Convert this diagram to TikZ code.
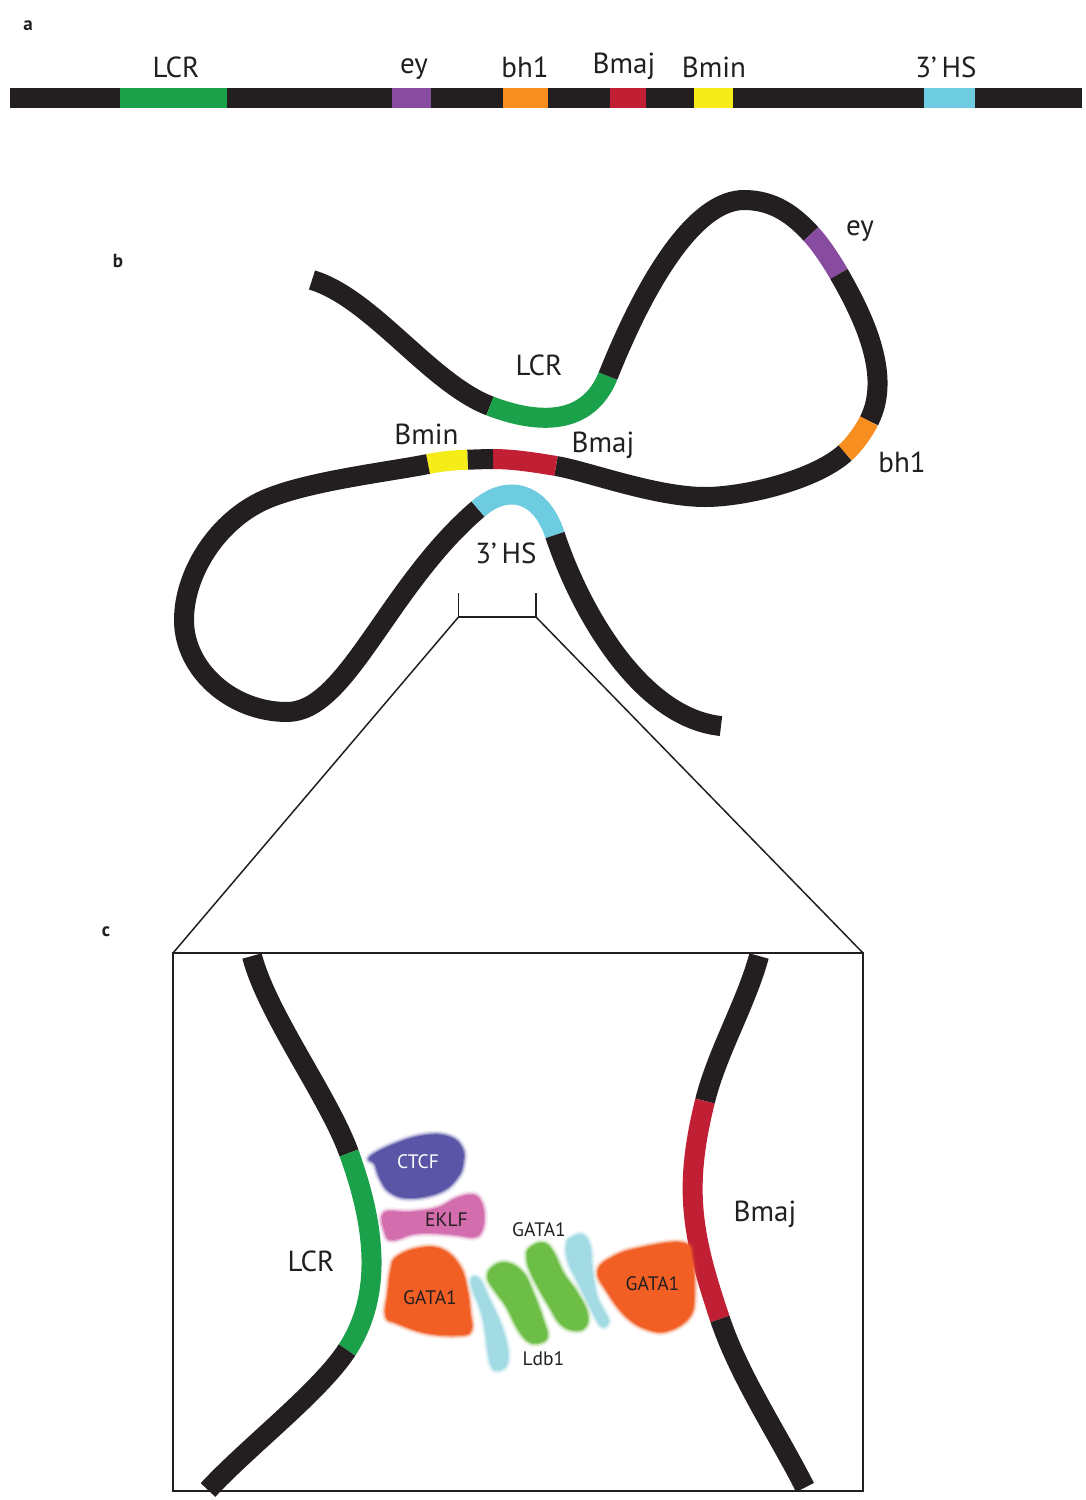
\documentclass[tikz,border=0pt]{standalone}
\usepackage{fontspec}
\setmainfont{PT Sans}
\definecolor{dna}{HTML}{231F20}
\definecolor{lcrgreen}{HTML}{1BA149}
\definecolor{eycol}{HTML}{874BA0}
\definecolor{bhcol}{HTML}{F78E1F}
\definecolor{majcol}{HTML}{C11F34}
\definecolor{mincol}{HTML}{F6EC17}
\definecolor{hscol}{HTML}{6DCCE0}
\definecolor{ctcfcol}{HTML}{5A55A6}
\definecolor{eklfcol}{HTML}{D46DAE}
\definecolor{gatacol}{HTML}{F15F25}
\definecolor{gatagreen}{HTML}{6DBE46}
\definecolor{ldbcol}{HTML}{A2DBE4}
% soft-edged protein shape: halo strokes, then a solid fill
\newcommand\proteinblob[2]{%
  \foreach \w/\o in {8/0.12,5/0.25,2.5/0.5}{%
    \draw[#1,line width=\w pt,opacity=\o,line join=round]
      plot[smooth cycle,tension=0.7] coordinates {#2};}
  \fill[#1] plot[smooth cycle,tension=0.7] coordinates {#2};}
\begin{document}
\begin{tikzpicture}[x=1pt,y=-1pt,
  fiber/.style={line width=20pt,line cap=butt,line join=round},
  lbl/.style={font=\fontsize{29}{34}\selectfont,text=dna,inner sep=0pt,anchor=base},
  small/.style={font=\fontsize{19.5}{23}\selectfont,text=dna,inner sep=0pt,anchor=base},
  panel/.style={font=\bfseries\fontsize{19}{22}\selectfont,text=dna,inner sep=0pt,anchor=base},
  thinline/.style={line width=1.5pt,draw=dna},
  frame/.style={line width=1.8pt,draw=dna}]
\useasboundingbox (0,0) rectangle (1086,1500);
\fill[white] (0,0) rectangle (1086,1500);

% ---------- a: linear locus ----------
\node[panel] (pa) at (28,30) {a};
\fill[dna] (10,88) rectangle (1082,108);
\fill[lcrgreen] (120,88) rectangle (227,108);
\fill[eycol] (392,88) rectangle (431,108);
\fill[bhcol] (503,88) rectangle (548,108);
\fill[majcol] (610,88) rectangle (646,108);
\fill[mincol] (694,88) rectangle (733,108);
\fill[hscol] (924,88) rectangle (975,108);
\node[lbl] (aLCR) at (176,77.5) {LCR};
\node[lbl] (aey) at (414,73) {ey};
\node[lbl] (abh) at (525,77.5) {bh1};
\node[lbl] (amaj) at (624,73) {Bmaj};
\node[lbl] (amin) at (714,77.5) {Bmin};
\node[lbl] (aHS) at (946,77.5) {3’\,HS};

% ---------- b: looped chromatin fibre ----------
\node[panel] (pb) at (118,267) {b};
\draw[fiber,dna] (312,280) .. controls (372,298) and (430,383) .. (490,406);
\draw[fiber,lcrgreen] (490,406) .. controls (540,425) and (588,425) .. (608,376);
\draw[fiber,dna] (608,376) .. controls (652,266) and (700,200) .. (744,200)
  .. controls (774,200) and (794,215.5) .. (811,234);
\draw[fiber,eycol] (811,234) .. controls (821,245) and (831.5,261) .. (839,274);
\draw[fiber,dna] (839,274) .. controls (864,317.5) and (892,376) .. (869,421);
\draw[fiber,bhcol] (869,421) .. controls (863.6,431.7) and (854,445) .. (845,453);
\draw[fiber,dna] (845,453) .. controls (815.4,479.8) and (745,497) .. (705,497)
  .. controls (655,497) and (586,470.8) .. (556,466);
\draw[fiber,majcol] (556,466) .. controls (536,462.6) and (513,459) .. (493,459);
\draw[fiber,dna] (493,459) .. controls (485,459) and (475.5,459.5) .. (467.5,459.7);
\draw[fiber,mincol] (467.5,459.7) .. controls (454.5,460.1) and (441,461.4) .. (428,464);
\draw[fiber,dna] (428,464) .. controls (388,472) and (300,482) .. (260,502)
  .. controls (215,524.5) and (184,575) .. (184,620)
  .. controls (184,670) and (232,712) .. (287,712)
  .. controls (347,712) and (386.8,587) .. (478,509);
\draw[fiber,hscol] (478,509) .. controls (508,483) and (541,492) .. (555,535);
\draw[fiber,dna] (555,535) .. controls (580,611) and (641,718) .. (721,726);

\node[lbl] (bLCR) at (539,375) {LCR};
\node[lbl] (bey) at (860,235) {ey};
\node[lbl] (bbh) at (902,472) {bh1};
\node[lbl] (bmin) at (426.5,444) {Bmin};
\node[lbl] (bmaj) at (603,452) {Bmaj};
\node[lbl] (bHS) at (506,563) {3’\,HS};

% bracket over the 3'HS region and the zoom lines
\coordinate (brL) at (458.5,617);
\coordinate (brR) at (536,617);
\coordinate (brLt) at (458.5,593);
\coordinate (brRt) at (536,593);
\coordinate (boxTL) at (173,953);
\coordinate (boxTR) at (863,953);
\coordinate (boxBR) at (863,1491);
\draw[thinline] (brLt) -- (brL) -- (brR) -- (brRt);
\draw[thinline] (brL) -- (boxTL);
\draw[thinline] (brR) -- (boxTR);

% ---------- c: close-up of the LCR / Bmaj contact ----------
\node[panel] (pc) at (106,936) {c};
\draw[frame] (boxTL) rectangle (boxBR);

\draw[fiber,dna] (252,956) .. controls (267,1014) and (328.6,1096.6) .. (349,1153);
\draw[fiber,lcrgreen] (349,1153) .. controls (372.8,1218.8) and (385.5,1291.2) .. (347,1350);
\draw[fiber,dna] (347,1350) .. controls (319.5,1392) and (248.8,1446) .. (208,1490);

\draw[fiber,dna] (759,956) .. controls (746,1004) and (717,1052.5) .. (705,1101);
\draw[fiber,majcol] (705,1101) .. controls (683.4,1188.3) and (691.2,1233.5) .. (720,1319);
\draw[fiber,dna] (720,1319) .. controls (739,1376) and (778,1434) .. (805,1487.5);

% protein complex
\proteinblob{ctcfcol}{(370,1157) (397,1143) (427,1135) (450,1137) (462,1148) (463,1163) (457,1178) (440,1192) (410,1198) (390,1192) (380,1178) (375,1164)}
\proteinblob{eklfcol}{(384,1213) (410,1212) (437,1208) (457,1198) (473,1195) (481,1202) (484,1217) (481,1232) (473,1237) (457,1235) (433,1233) (413,1234) (392,1240) (385,1232)}
\proteinblob{gatacol}{(397,1257) (420,1248) (443,1250) (460,1267) (467,1290) (470,1313) (471,1330) (460,1335) (427,1333) (397,1323) (386,1316) (388,1293) (391,1270)}
\proteinblob{gatacol}{(598,1271) (613,1257) (640,1248) (683,1243) (692,1260) (694,1297) (689,1317) (670,1330) (650,1330) (627,1317) (607,1291)}
\proteinblob{ldbcol}{(472,1278) (480,1280) (488,1297) (500,1323) (507,1347) (507,1363) (500,1370) (492,1367) (488,1350) (485,1327) (480,1307) (473,1290)}
\proteinblob{ldbcol}{(573,1237) (583,1235) (590,1247) (592,1270) (597,1297) (607,1317) (608,1323) (603,1327) (597,1320) (587,1300) (577,1280) (568,1260) (567,1243)}
\proteinblob{gatagreen}{(493,1267) (507,1263) (523,1273) (533,1293) (543,1320) (547,1337) (537,1343) (527,1340) (517,1327) (507,1307) (497,1293) (488,1278)}
\proteinblob{gatagreen}{(530,1248) (543,1243) (553,1252) (563,1273) (577,1293) (587,1313) (585,1327) (573,1330) (560,1323) (550,1307) (540,1290) (530,1270) (527,1257)}

\node[small,text=white] (tctcf) at (418,1168) {CTCF};
\node[small] (teklf) at (446.5,1226.5) {EKLF};
\node[small] (tgataL) at (430,1304) {GATA1};
\node[small] (tgataT) at (539,1236.5) {GATA1};
\node[small] (tgataR) at (652.5,1290.5) {GATA1};
\node[small] (tldb) at (543.5,1365) {Ldb1};

\node[lbl] (cLCR) at (311,1271.5) {LCR};
\node[lbl] (cmaj) at (765,1221) {Bmaj};
\end{tikzpicture}
\end{document}
